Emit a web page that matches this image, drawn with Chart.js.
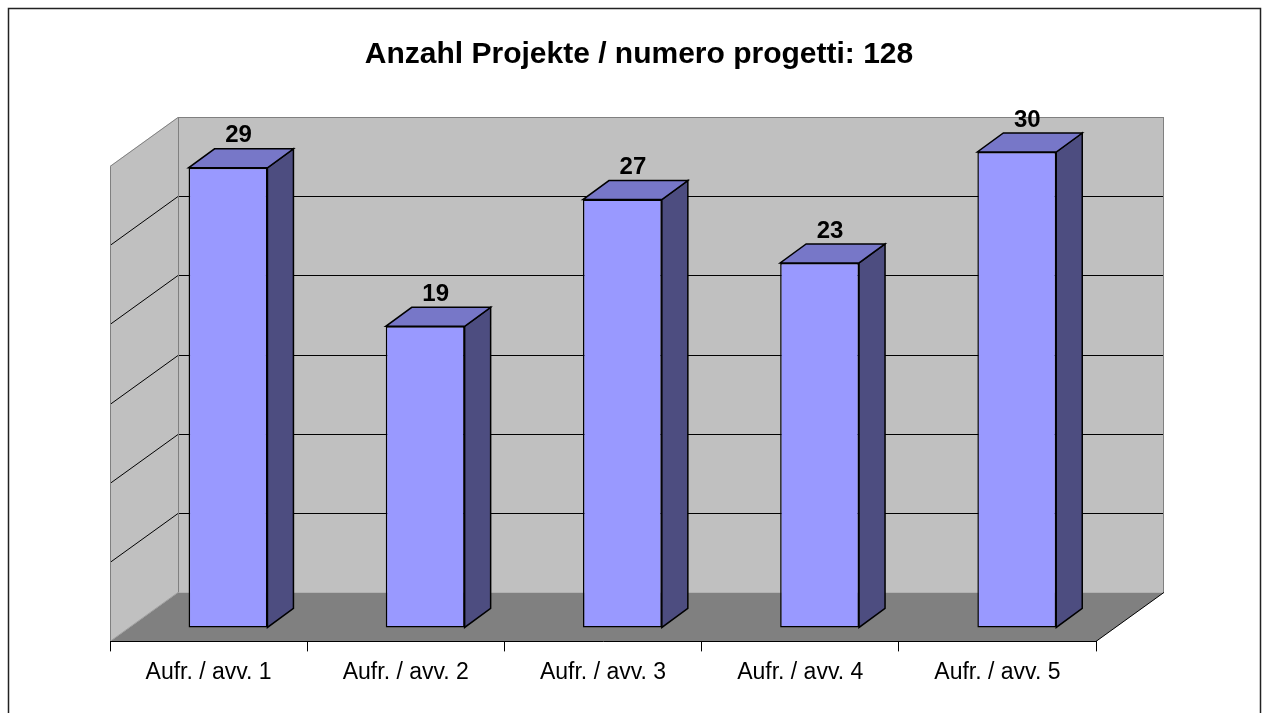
<!DOCTYPE html>
<html>
<head>
<meta charset="utf-8">
<script src="https://cdn.jsdelivr.net/npm/chart.js@4.4.0/dist/chart.umd.min.js"></script>
<style>
  body { margin: 0; background: #fff; }
</style>
</head>
<body>
<canvas id="projChart" width="1262" height="713"></canvas>
<script>
const categories = ["Aufr. / avv. 1", "Aufr. / avv. 2", "Aufr. / avv. 3", "Aufr. / avv. 4", "Aufr. / avv. 5"];
const projects = [29, 19, 27, 23, 30];
const gridValues = [5, 10, 15, 20, 25];
const yMax = 30;
const titleText = "Anzahl Projekte / numero progetti: 128";

const FONT = "'Liberation Sans', Arial, sans-serif";

// 3d look: depth of floor / walls, where the bars sit, and bar depth
const DX = 68, DY = -49;
const BX = 19.4, BY = -14;
const BDX = 26, BDY = -19;

function poly(ctx, pts, fill, stroke, lw) {
    ctx.beginPath();
    ctx.moveTo(pts[0][0], pts[0][1]);
    for (let i = 1; i < pts.length; i++) ctx.lineTo(pts[i][0], pts[i][1]);
    ctx.closePath();
    if (fill) { ctx.fillStyle = fill; ctx.fill(); }
    if (stroke) { ctx.strokeStyle = stroke; ctx.lineWidth = lw || 1; ctx.stroke(); }
}

function line(ctx, x1, y1, x2, y2, color) {
    ctx.beginPath();
    ctx.moveTo(x1, y1);
    ctx.lineTo(x2, y2);
    ctx.strokeStyle = color;
    ctx.lineWidth = 1;
    ctx.stroke();
}

const walls = {
    id: 'walls',
    beforeDraw(chart) {
        const ctx = chart.ctx;
        const a = chart.chartArea;
        const y = chart.scales.y;
        const L = a.left, R = a.right;
        const T = y.getPixelForValue(yMax), B = y.getPixelForValue(0);
        ctx.save();
        // outer frame
        ctx.strokeStyle = '#222';
        ctx.lineWidth = 1.5;
        ctx.strokeRect(8.5, 8.5, 1252, 740);

        // title, centred on the whole frame
        ctx.fillStyle = '#000';
        ctx.font = 'bold 30px ' + FONT;
        ctx.textAlign = 'center';
        ctx.textBaseline = 'alphabetic';
        ctx.fillText(titleText, 639, 63);

        // back wall
        ctx.fillStyle = '#c0c0c0';
        ctx.fillRect(L + DX, T + DY, R - L, B - T);
        // left wall
        poly(ctx, [[L, B], [L, T], [L + DX, T + DY], [L + DX, B + DY]], '#c0c0c0');
        // floor
        poly(ctx, [[L, B], [R, B], [R + DX, B + DY], [L + DX, B + DY]], '#808080');

        // gridlines on back wall and left wall
        gridValues.forEach(v => {
            const py = Math.round(y.getPixelForValue(v)) + 0.5;
            line(ctx, L + DX, py + DY, R + DX, py + DY, '#000');
            line(ctx, L, py, L + DX, py + DY, '#000');
        });

        // wall edges
        const tY = Math.round(T) + 0.5;
        line(ctx, L + 0.5, B, L + 0.5, tY, '#808080');
        line(ctx, L, tY, L + DX, tY + DY, '#808080');
        line(ctx, L + DX, tY + DY, R + DX, tY + DY, '#808080');
        line(ctx, L + DX + 0.5, tY + DY, L + DX + 0.5, B + DY, '#808080');
        line(ctx, R + DX - 0.5, tY + DY, R + DX - 0.5, B + DY, '#808080');
        line(ctx, L, B, L + DX, B + DY, '#a0a0a0');
        // floor right edge
        line(ctx, R, B, R + DX, B + DY, '#000');
        ctx.restore();
    }
};

const bars3d = {
    id: 'bars3d',
    beforeDatasetsDraw(chart) {
        chart.ctx.save();
        chart.ctx.translate(BX, BY);
    },
    afterDatasetsDraw(chart) {
        const ctx = chart.ctx;
        const meta = chart.getDatasetMeta(0);
        meta.data.forEach((bar, i) => {
            const l = bar.x - bar.width / 2, r = bar.x + bar.width / 2;
            const t = bar.y, b = bar.base;
            ctx.lineJoin = 'miter';
            poly(ctx, [[r, t], [r + BDX, t + BDY], [r + BDX, b + BDY], [r, b]], '#4d4d80', '#000', 1.5);
            poly(ctx, [[l, t], [r, t], [r + BDX, t + BDY], [l + BDX, t + BDY]], '#7777c8', '#000', 1.5);
            ctx.fillStyle = '#000';
            ctx.font = 'bold 24px ' + FONT;
            ctx.textAlign = 'center';
            ctx.textBaseline = 'middle';
            ctx.fillText(String(projects[i]), bar.x + 10.5, t + BDY - 13);
        });
        ctx.restore();
    }
};

new Chart(document.getElementById('projChart'), {
    type: 'bar',
    data: {
        labels: categories,
        datasets: [{
            data: projects,
            backgroundColor: '#9999ff',
            borderColor: '#000',
            borderWidth: 1.5,
            borderSkipped: false,
            categoryPercentage: 1,
            barPercentage: 0.4,
            clip: false
        }]
    },
    options: {
        responsive: false,
        animation: false,
        layout: { padding: { left: 110, right: 166, top: 166, bottom: 20 } },
        plugins: {
            legend: { display: false },
            tooltip: { enabled: false },
            title: { display: false }
        },
        scales: {
            x: {
                grid: { display: true, drawOnChartArea: false, drawTicks: true, tickLength: 10, color: '#000', offset: true },
                border: { display: true, color: '#000', width: 1 },
                ticks: { color: '#000', font: { family: FONT, size: 23 }, padding: 7 }
            },
            y: {
                display: false,
                min: 0,
                max: yMax
            }
        }
    },
    plugins: [walls, bars3d]
});
</script>
</body>
</html>
